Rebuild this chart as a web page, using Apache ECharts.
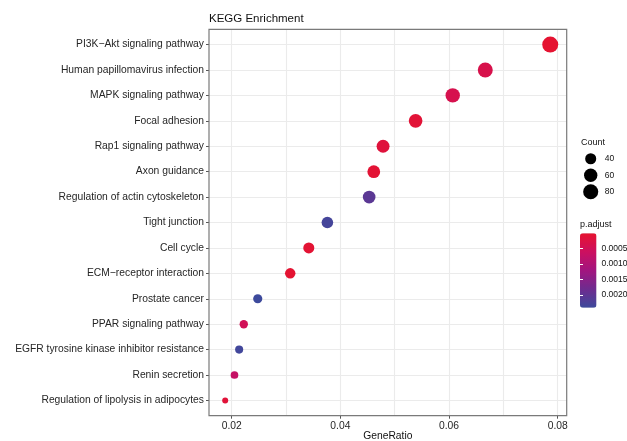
<!DOCTYPE html>
<html>
<head>
<meta charset="utf-8">
<script src="https://cdn.jsdelivr.net/npm/echarts@6/dist/echarts.min.js"></script>
<style>
html,body{margin:0;padding:0;background:#fff;}
#chart{width:627px;height:441px;}
</style>
</head>
<body>
<div id="chart"></div>
<script>
var categories = ['PI3K\u2212Akt signaling pathway', 'Human papillomavirus infection', 'MAPK signaling pathway',
  'Focal adhesion', 'Rap1 signaling pathway', 'Axon guidance', 'Regulation of actin cytoskeleton',
  'Tight junction', 'Cell cycle', 'ECM\u2212receptor interaction', 'Prostate cancer',
  'PPAR signaling pathway', 'EGFR tyrosine kinase inhibitor resistance', 'Renin secretion',
  'Regulation of lipolysis in adipocytes'];
var geneRatio = [0.07863, 0.06667, 0.06068, 0.05385, 0.04786, 0.04615, 0.04530, 0.03761, 0.03419,
  0.03077, 0.02479, 0.02222, 0.02137, 0.02051, 0.01880];
var counts = [92, 78, 71, 63, 56, 54, 53, 44, 40, 36, 29, 26, 25, 24, 22];
var pAdjust = [0.00003, 0.00035, 0.00038, 0.00010, 0.00016, 0.00008, 0.00205, 0.00232, 0.00006,
  0.00004, 0.00242, 0.00050, 0.00236, 0.00070, 0.00012];
var xTicks = [0.02, 0.04, 0.06, 0.08];
var xGrid = [0.02, 0.03, 0.04, 0.05, 0.06, 0.07, 0.08];
var sizeBreaks = ['40', '60', '80'];
var pTicks = [0.0005, 0.0010, 0.0015, 0.0020];

var FONT = '"Liberation Sans", Arial, sans-serif';
var cMin = Math.min.apply(null, counts), cMax = Math.max.apply(null, counts);
function sizeOf(c) { return 2 * (3 + 5 * Math.sqrt(Math.max(0, c - cMin) / (cMax - cMin))); }

var rowIdx = categories.map(function (_, i) { return i + 1; });
var scatterData = categories.map(function (c, i) { return [geneRatio[i], i + 1, counts[i], pAdjust[i]]; });
var gridLines = [];
xGrid.forEach(function (x) { gridLines.push({ coords: [[x, 0.4], [x, 15.6]] }); });
rowIdx.forEach(function (y) { gridLines.push({ coords: [[0.01582, y], [0.08166, y]] }); });

var chart = echarts.init(document.getElementById('chart'), null, { renderer: 'canvas' });
chart.setOption({
  animation: false,
  backgroundColor: '#ffffff',
  textStyle: { fontFamily: FONT },
  title: [
    { text: 'KEGG Enrichment', left: 209, top: 13, padding: 0,
      textStyle: { fontFamily: FONT, fontSize: 11.5, fontWeight: 'normal', color: '#111' } },
    { text: 'Count', left: 581, top: 138, padding: 0,
      textStyle: { fontFamily: FONT, fontSize: 9, fontWeight: 'normal', color: '#111' } },
    { text: 'p.adjust', left: 580, top: 220, padding: 0,
      textStyle: { fontFamily: FONT, fontSize: 9, fontWeight: 'normal', color: '#111' } }
  ],
  grid: [
    { left: 209, top: 29.3, width: 357.7, height: 386.4, show: true, borderColor: '#7a7a7a', borderWidth: 1.2,
      backgroundColor: 'transparent', z: 3, outerBoundsMode: 'none', containLabel: false },
    { left: 582.7, top: 150.5, width: 16, height: 49.5, show: false, outerBoundsMode: 'none', containLabel: false },
    { left: 580, top: 233.3, width: 16.5, height: 74.4, show: false, outerBoundsMode: 'none', containLabel: false }
  ],
  xAxis: [
    { gridIndex: 0, type: 'value', min: 0.01582, max: 0.08166,
      axisLine: { show: false },
      axisTick: { show: true, length: 3, lineStyle: { color: '#555', width: 1 }, customValues: xTicks },
      axisLabel: { customValues: xTicks, margin: 5, fontSize: 10.3, color: '#262626', fontFamily: FONT,
        formatter: function (v) { return v.toFixed(2); } },
      splitLine: { show: false },
      name: 'GeneRatio', nameLocation: 'middle', nameGap: 20, nameMoveOverlap: false,
      nameTextStyle: { fontSize: 10.3, color: '#111', fontFamily: FONT, verticalAlign: 'middle' } },
    { gridIndex: 1, type: 'value', min: -1, max: 1, show: false },
    { gridIndex: 2, type: 'value', min: 0, max: 1, show: false }
  ],
  yAxis: [
    { gridIndex: 0, type: 'value', min: 0.4, max: 15.6, inverse: true,
      axisLine: { show: false },
      axisTick: { show: true, length: 3, lineStyle: { color: '#555', width: 1 }, customValues: rowIdx },
      axisLabel: { customValues: rowIdx, margin: 5, fontSize: 10.3, color: '#262626', fontFamily: FONT,
        formatter: function (v) { return categories[Math.round(v) - 1]; } },
      splitLine: { show: false } },
    { gridIndex: 1, type: 'category', data: sizeBreaks, inverse: true, position: 'right',
      axisLine: { show: false }, axisTick: { show: false }, splitLine: { show: false },
      axisLabel: { margin: 6, fontSize: 8.5, color: '#111', fontFamily: FONT } },
    { gridIndex: 2, type: 'value', min: 0, max: 0.00242, inverse: true, position: 'right', z: 10,
      axisLine: { show: false }, splitLine: { show: false },
      axisTick: { show: true, inside: true, length: 3, customValues: pTicks, lineStyle: { color: '#ffffff', width: 1 } },
      axisLabel: { customValues: pTicks, margin: 5, fontSize: 8.5, color: '#111', fontFamily: FONT,
        formatter: function (v) { return v.toFixed(4); } } },
    { gridIndex: 2, type: 'value', min: 0, max: 0.00242, inverse: true, position: 'left', z: 10,
      axisLine: { show: false }, splitLine: { show: false },
      axisTick: { show: true, inside: true, length: 3, customValues: pTicks, lineStyle: { color: '#ffffff', width: 1 } },
      axisLabel: { show: false } }
  ],
  visualMap: [{
    type: 'continuous', seriesIndex: 1, dimension: 3, min: 0, max: 0.00242,
    inverse: true, calculable: false, realtime: false, show: true,
    left: 580, top: 233.3, itemWidth: 16.5, itemHeight: 74.4, padding: 0,
    text: null, showLabel: false,
    inRange: { color: ['#E6132F', '#CC1060', '#A2157F', '#6E2C8F', '#3D4A9C'] }
  }],
  series: [
    { type: 'lines', coordinateSystem: 'cartesian2d', xAxisIndex: 0, yAxisIndex: 0, silent: true, z: 1,
      polyline: false, data: gridLines,
      lineStyle: { color: '#EBEBEB', width: 1.1, opacity: 1, curveness: 0 } },
    { type: 'scatter', xAxisIndex: 0, yAxisIndex: 0, z: 5, data: scatterData,
      symbol: 'circle',
      symbolSize: function (v) { return sizeOf(v[2]); },
      itemStyle: { opacity: 1, borderWidth: 0 } },
    { type: 'scatter', xAxisIndex: 1, yAxisIndex: 1, z: 5, silent: true,
      data: sizeBreaks.map(function (s) { return [0, s]; }),
      symbol: 'circle',
      symbolSize: function (v) { return sizeOf(Number(v[1])); },
      itemStyle: { color: '#000000', opacity: 1 } }
  ]
});
</script>
</body>
</html>
